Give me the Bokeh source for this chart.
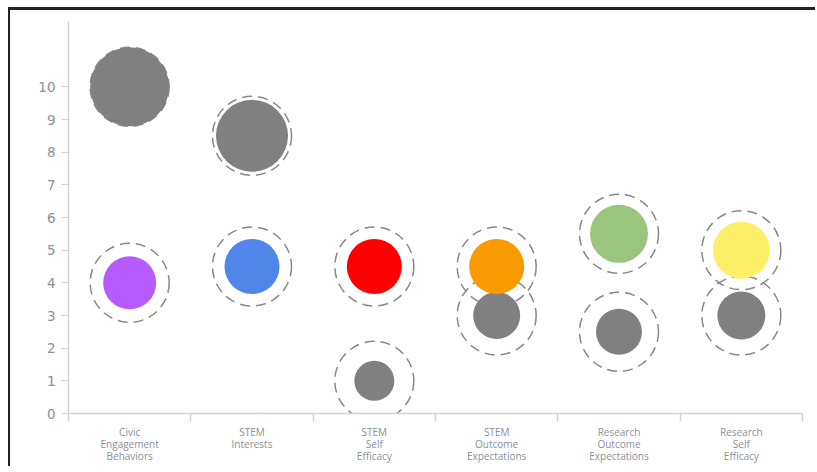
from bokeh.plotting import figure
from bokeh.models import LinearAxis, FixedTicker, Title
from bokeh.embed import file_html
from bokeh.resources import INLINE

categories = ["Civic\nEngagement\nBehaviors", "STEM\nInterests", "STEM\nSelf\nEfficacy",
              "STEM\nOutcome\nExpectations", "Research\nOutcome\nExpectations", "Research\nSelf\nEfficacy"]
y_ticks = [0, 1, 2, 3, 4, 5, 6, 7, 8, 9, 10]

# first series of bubbles
upper_values = [10, 8.5, 4.5, 4.5, 5.5, 5]
upper_radius = [39.5, 36, 27.5, 27.5, 29, 28.5]
upper_colors = ["#808080", "#808080", "#ff0000", "#f99a00", "#99c57f", "#fdf068"]

# second series
lower_values = [4, 4.5, 1, 3, 2.5, 3]
lower_radius = [26.5, 27.5, 20, 23.5, 23, 24]
lower_colors = ["#b65cff", "#5086ea", "#808080", "#808080", "#808080", "#808080"]

# dashed reference rings
ring_radius = 39.5

AXIS = "#d2d2d2"
TEXT = "#8a9097"

p = figure(frame_width=734, frame_height=392, output_backend="svg", toolbar_location=None,
           x_range=categories, y_range=(0, 12), x_axis_type=None, y_axis_type=None,
           min_border_left=58, min_border_right=13, min_border_top=11, min_border_bottom=0,
           margin=(7, 0, 0, 8))
p.styles = {"border-top": "3px solid #222222", "border-left": "2px solid #222222"}
p.outline_line_color = None
p.grid.visible = False

xaxis = LinearAxis(ticker=FixedTicker(ticks=[i + 0.5 for i in range(6)], minor_ticks=list(range(7))))
xaxis.major_label_overrides = {i + 0.5: c for i, c in enumerate(categories)}
xaxis.axis_line_color = AXIS
xaxis.axis_line_width = 1.5
xaxis.major_tick_line_color = None
xaxis.major_tick_out = 0
xaxis.major_tick_in = 0
xaxis.minor_tick_line_color = AXIS
xaxis.minor_tick_line_width = 1.5
xaxis.minor_tick_out = 8
xaxis.minor_tick_in = 0
xaxis.major_label_text_color = TEXT
xaxis.major_label_text_font = "Open Sans"
xaxis.major_label_text_font_size = "10px"
xaxis.major_label_text_line_height = 0.89
xaxis.major_label_standoff = 3
xaxis.major_label_orientation = "horizontal"
p.add_layout(xaxis, "below")

yaxis = LinearAxis(ticker=FixedTicker(ticks=y_ticks))
yaxis.major_label_overrides = {v: str(v) for v in y_ticks}
yaxis.axis_line_color = AXIS
yaxis.axis_line_width = 1.5
yaxis.major_tick_line_color = AXIS
yaxis.major_tick_out = 7
yaxis.major_tick_in = 0
yaxis.minor_tick_line_color = None
yaxis.major_label_text_color = TEXT
yaxis.major_label_text_font = "DejaVu Sans"
yaxis.major_label_text_font_size = "13.5px"
yaxis.major_label_standoff = 6
p.add_layout(yaxis, "left")

for vals in (upper_values, lower_values):
    p.circle(x=categories, y=vals, radius=ring_radius, radius_units="screen", fill_color=None,
             line_color="#888888", line_width=1.5, line_dash="10 6")
for vals, rad, cols in [(lower_values, lower_radius, lower_colors),
                        (upper_values, upper_radius, upper_colors)]:
    p.circle(x=categories, y=vals, radius=rad, radius_units="screen", fill_color=cols, line_color=None)

credit = Title(text="AnyChart", align="right", text_color="#8a8f94",
               text_font="Liberation Sans", text_font_size="11.5px", text_font_style="normal",
               offset=-13, standoff=-22)
p.add_layout(credit, "below")

open("out.html", "w").write(file_html(p, INLINE))
